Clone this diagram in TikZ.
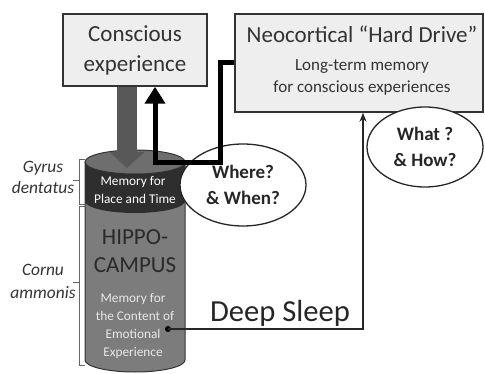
\documentclass[tikz,border=0pt]{standalone}
\usepackage{fontspec}
\setmainfont{Carlito}
\usetikzlibrary{arrows.meta,shapes.geometric}
\definecolor{boxfill}{HTML}{EEEEEE}
\definecolor{ink}{HTML}{333333}
\definecolor{arrowgray}{HTML}{585858}
\definecolor{topface}{HTML}{6E6E6E}
\definecolor{band}{HTML}{2E2E2E}
\definecolor{body}{HTML}{7C7C7C}
\definecolor{lighttext}{HTML}{E8E8E8}
\definecolor{hipink}{HTML}{2A2A2A}
\begin{document}
\begin{tikzpicture}[x=1pt,y=1pt,
  box/.style={draw=ink, line width=1.5pt, fill=boxfill, inner sep=0pt},
  ell/.style={draw=black!85, ellipse, line width=1.3pt, fill=white, inner sep=0pt, align=center,
    font=\fontsize{19}{26}\selectfont\bfseries, text=black!85},
  txt/.style={inner sep=0pt, text height=.66em, text depth=.2em},
  bigtxt/.style={txt, font=\fontsize{23}{30}\selectfont, text=ink},
  midtxt/.style={txt, font=\fontsize{17}{22}\selectfont, text=ink},
  celltxt/.style={txt, font=\fontsize{13.3}{18}\selectfont},
  hiptxt/.style={txt, font=\fontsize{23}{28}\selectfont, text=hipink},
  side/.style={txt, font=\fontsize{17.4}{22}\selectfont\itshape, text=ink},
  brack/.style={draw=black!60, line width=1pt},
]
\useasboundingbox (0,0) rectangle (485,-374);

% boxes
\node[box, minimum width=144pt, minimum height=72pt, align=center,
  font=\fontsize{23}{30}\selectfont, text=ink] (cons) at (135,-50) {Conscious\\experience};
\node[box, minimum width=248pt, minimum height=98pt] (neo) at (359,-63) {};
\node[bigtxt] (neo1) at (362,-40) {Neocortical “Hard Drive”};
\node[midtxt] (neo2) at (362,-68) {Long-term memory};
\node[midtxt] (neo3) at (362,-90) {for conscious experiences};

% cylinder (hippocampus)
\fill[body] (85,-201) -- (85,-360) arc[start angle=180,end angle=360,x radius=50,y radius=12] -- (185,-201) -- cycle;
\fill[band] (85,-162) -- (85,-201) arc[start angle=180,end angle=360,x radius=50,y radius=12] -- (185,-162) -- cycle;
\fill[topface] (135,-162) ellipse[x radius=50,y radius=12];
\draw[ink, line width=1pt] (85,-162) -- (85,-360) arc[start angle=180,end angle=360,x radius=50,y radius=12] -- (185,-162);
\draw[ink, line width=1pt] (135,-162) ellipse[x radius=50,y radius=12];
\coordinate (cyltop) at (127,-168);

\node[celltxt, text=white] (m1) at (133,-183) {Memory for};
\node[celltxt, text=white] (m2) at (135,-201) {Place and Time};
\node[hiptxt] (h1) at (135,-242) {HIPPO-};
\node[hiptxt] (h2) at (135,-270) {CAMPUS};
\node[celltxt, text=lighttext] (e1) at (133,-300) {Memory for};
\node[celltxt, text=lighttext] (e2) at (135,-318) {the Content of};
\node[celltxt, text=lighttext] (e3) at (133,-336) {Emotional};
\node[celltxt, text=lighttext] (e4) at (133,-354) {Experience};

% big gray arrow down
\draw[arrowgray, line width=20pt, -{Triangle[length=16pt,width=34pt]}]
  ([xshift=-8pt]cons.south) -- (cyltop);

% ellipses
\node[ell, minimum width=126pt, minimum height=82pt] (where) at (243,-185) {Where?\\\& When?};
\node[ell, minimum width=116pt, minimum height=80pt] (what) at (425,-147) {What ?\\\& How?};

% black return arrow
\draw[black, line width=5pt, line join=miter, -{Triangle[length=17pt,width=20pt]}]
  (neo.west) -| (220,-163) -| ([xshift=20pt]cons.south);

% deep sleep
\node[circle, fill=black, inner sep=0pt, minimum size=6pt] (dot) at (168,-329) {};
\draw[black!85, line width=1.8pt, -{Stealth[length=9pt,width=7pt]}]
  (dot.center) -| ([xshift=4pt]neo.south);
\node[inner sep=0pt, anchor=base, font=\fontsize{30.6}{36}\selectfont, text=black!85] (deep) at (280,-322) {Deep Sleep};

% side brackets and labels
\draw[brack] (85,-160) -- (79,-160) -- (79,-205) -- (85,-205);
\draw[brack] (79,-181) -- (73,-181);
\draw[brack] (85,-207) -- (79,-207) -- (79,-365) -- (85,-365);
\draw[brack] (79,-283) -- (73,-283);
\node[side] (g1) at (43,-170) {Gyrus};
\node[side] (g2) at (43,-191) {dentatus};
\node[side] (c1) at (43,-273) {Cornu};
\node[side] (c2) at (43,-296) {ammonis};
\end{tikzpicture}
\end{document}
